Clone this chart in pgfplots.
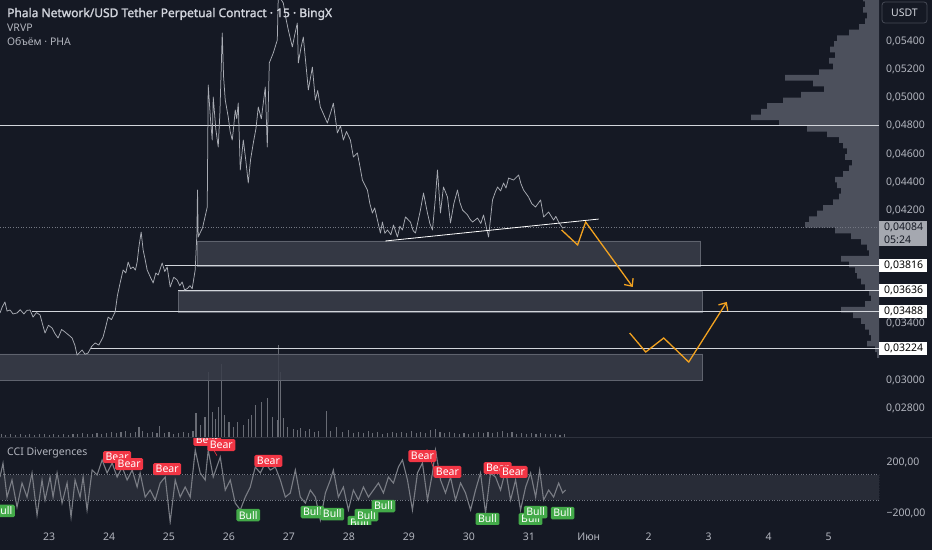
\documentclass[border=0pt]{standalone}
\usepackage{pgfplots}
\pgfplotsset{compat=1.18}
\usepackage{pgfplotstable}
\usepackage{fontspec}
\setmainfont{Noto Sans}
\newfontfamily\titlefont{Noto Sans}[FakeBold=1.6]
\usetikzlibrary{arrows.meta}
\definecolor{bg}{RGB}{21,25,36}
\definecolor{txt}{RGB}{178,181,190}
\definecolor{ttl}{RGB}{209,212,220}
\definecolor{pline}{RGB}{168,171,179}
\definecolor{rfill}{RGB}{58,62,74}
\definecolor{rdraw}{RGB}{95,99,110}
\definecolor{hline}{RGB}{210,213,219}
\definecolor{vol}{RGB}{104,107,116}
\definecolor{vp}{RGB}{76,80,92}
\definecolor{orng}{RGB}{242,162,32}
\definecolor{bearc}{RGB}{242,54,69}
\definecolor{bullc}{RGB}{67,170,73}
\definecolor{ccil}{RGB}{122,125,133}
\definecolor{band}{RGB}{40,44,55}
\definecolor{dotc}{RGB}{115,119,130}
\definecolor{curc}{RGB}{165,168,176}
\definecolor{sepc}{RGB}{46,50,61}
\definecolor{boxb}{RGB}{70,74,86}

\pgfplotstableread{
day price
22.182 0.03477
22.220 0.03520
22.265 0.03555
22.300 0.03490
22.349 0.03498
22.400 0.03470
22.466 0.03477
22.520 0.03500
22.580 0.03470
22.630 0.03495
22.683 0.03498
22.733 0.03448
22.790 0.03480
22.850 0.03463
22.890 0.03400
22.933 0.03335
22.990 0.03390
23.050 0.03371
23.100 0.03330
23.150 0.03300
23.210 0.03360
23.267 0.03342
23.330 0.03320
23.384 0.03300
23.430 0.03250
23.467 0.03180
23.551 0.03215
23.600 0.03185
23.651 0.03194
23.710 0.03240
23.768 0.03265
23.830 0.03250
23.901 0.03307
23.940 0.03370
23.985 0.03448
24.040 0.03430
24.102 0.03484
24.140 0.03600
24.185 0.03689
24.235 0.03781
24.280 0.03760
24.319 0.03837
24.360 0.03790
24.402 0.03802
24.440 0.03780
24.469 0.03837
24.500 0.03950
24.536 0.04049
24.569 0.03922
24.600 0.03860
24.636 0.03781
24.690 0.03730
24.736 0.03689
24.780 0.03760
24.820 0.03745
24.886 0.03830
24.930 0.03770
24.970 0.03802
25.020 0.03661
25.080 0.03730
25.137 0.03710
25.180 0.03670
25.220 0.03696
25.260 0.03640
25.304 0.03649
25.350 0.03670
25.387 0.03649
25.437 0.03781
25.466 0.04042
25.471 0.04226
25.476 0.04346
25.487 0.04014
25.560 0.04080
25.638 0.04226
25.654 0.05089
25.690 0.04860
25.721 0.04700
25.738 0.05004
25.780 0.04780
25.821 0.04651
25.850 0.04900
25.888 0.05457
25.910 0.05150
25.938 0.04983
25.988 0.04863
26.020 0.04760
26.055 0.04700
26.080 0.04800
26.105 0.04912
26.130 0.04850
26.155 0.04962
26.189 0.04488
26.239 0.04700
26.280 0.04560
26.322 0.04396
26.360 0.04560
26.406 0.04679
26.450 0.04780
26.489 0.04933
26.540 0.04850
26.606 0.05075
26.639 0.04651
26.673 0.05245
26.739 0.05315
26.806 0.05407
26.823 0.05725
26.906 0.05669
26.950 0.05560
26.990 0.05478
27.057 0.05358
27.100 0.05450
27.140 0.05527
27.157 0.05245
27.200 0.05350
27.240 0.05428
27.324 0.05054
27.391 0.05216
27.441 0.04983
27.480 0.05050
27.524 0.04933
27.580 0.04880
27.641 0.04820
27.700 0.04900
27.741 0.04960
27.808 0.04750
27.860 0.04800
27.908 0.04700
27.960 0.04760
28.025 0.04700
28.075 0.04580
28.142 0.04608
28.190 0.04500
28.225 0.04417
28.309 0.04346
28.350 0.04250
28.392 0.04184
28.430 0.04220
28.476 0.04134
28.526 0.04042
28.559 0.04120
28.600 0.04040
28.643 0.04064
28.700 0.04030
28.743 0.04099
28.810 0.04014
28.850 0.04090
28.893 0.04064
28.943 0.04156
29.027 0.04120
29.070 0.04060
29.110 0.04042
29.150 0.04120
29.193 0.04205
29.244 0.04325
29.310 0.04184
29.350 0.04110
29.394 0.04064
29.444 0.04297
29.477 0.04488
29.527 0.04184
29.577 0.04368
29.644 0.04297
29.694 0.04113
29.750 0.04250
29.811 0.04346
29.850 0.04260
29.895 0.04205
29.978 0.04170
30.020 0.04140
30.062 0.04120
30.145 0.04148
30.200 0.04110
30.245 0.04170
30.329 0.04014
30.395 0.04276
30.440 0.04330
30.479 0.04368
30.530 0.04340
30.579 0.04396
30.620 0.04360
30.663 0.04431
30.746 0.04417
30.830 0.04453
30.870 0.04390
30.913 0.04346
30.996 0.04297
31.050 0.04250
31.113 0.04226
31.197 0.04276
31.247 0.04156
31.330 0.04191
31.414 0.04134
31.450 0.04160
31.497 0.04120
31.564 0.04078
31.614 0.04085
}\pricedata

\pgfplotstableread{
day cci
22.182 82
22.232 190
22.299 -75
22.382 59
22.466 -153
22.549 35
22.633 -75
22.716 114
22.800 -216
22.883 59
22.933 -98
23.017 82
23.067 -75
23.134 114
23.217 -122
23.301 35
23.367 -231
23.434 59
23.518 -75
23.568 82
23.634 -176
23.718 137
23.801 98
23.885 216
23.968 114
24.052 192
24.135 82
24.219 161
24.302 59
24.386 137
24.469 4
24.519 114
24.603 -75
24.686 -20
24.770 -98
24.853 35
24.937 82
25.020 -270
25.104 59
25.187 -75
25.270 4
25.354 -75
25.438 294
25.521 114
25.604 59
25.654 294
25.738 82
25.855 239
25.938 -20
26.022 59
26.105 -122
26.189 -176
26.272 -75
26.356 4
26.439 161
26.523 114
26.606 192
26.690 137
26.773 161
26.857 59
26.940 -75
27.023 -43
27.107 137
27.190 -75
27.274 -122
27.357 -20
27.441 -75
27.524 -255
27.608 -43
27.691 59
27.741 137
27.825 -75
27.908 4
27.992 -176
28.075 -20
28.159 -98
28.242 4
28.326 -75
28.409 -20
28.493 35
28.576 -43
28.659 82
28.743 35
28.826 161
28.893 216
28.977 59
29.060 -176
29.144 114
29.227 192
29.311 -98
29.394 114
29.444 294
29.528 59
29.611 -43
29.695 82
29.778 -98
29.862 35
29.945 -43
30.029 -176
30.112 -20
30.195 114
30.279 -200
30.362 114
30.446 82
30.529 -20
30.613 137
30.696 -98
30.780 59
30.863 -176
30.947 4
31.030 114
31.114 -75
31.181 137
31.247 -98
31.331 -20
31.414 -75
31.498 35
31.565 -43
31.614 -20
}\ccidata

\pgfplotstableread{
day vol
22.20 3
22.28 2
22.36 3
22.44 2
22.52 3
22.60 2
22.68 3
22.76 2
22.84 3
22.92 3
23.00 2
23.08 3
23.16 2
23.24 3
23.32 2
23.40 3
23.48 3
23.56 4
23.64 3
23.72 3
23.80 4
23.88 3
23.96 4
24.04 5
24.12 4
24.20 5
24.28 6
24.36 4
24.44 5
24.50 10
24.56 6
24.64 4
24.72 5
24.80 4
24.84 11
24.92 4
25.00 5
25.08 3
25.16 4
25.24 5
25.32 4
25.40 6
25.45 24
25.52 12
25.60 20
25.655 65
25.72 25
25.78 18
25.82 30
25.87 73
25.93 22
26.00 15
26.08 10
26.14 15
26.24 12
26.32 18
26.37 22
26.45 32
26.55 35
26.65 39
26.72 20
26.81 17
26.83 92
26.86 65
26.91 19
26.98 10
27.07 8
27.15 7
27.20 9
27.28 6
27.35 8
27.42 5
27.50 6
27.62 26
27.70 6
27.80 10
27.90 5
28.00 7
28.08 4
28.16 5
28.24 4
28.32 6
28.40 4
28.48 5
28.56 3
28.64 4
28.72 5
28.80 4
28.88 5
28.96 4
29.04 6
29.12 4
29.20 5
29.28 4
29.36 7
29.44 8
29.52 5
29.60 4
29.68 5
29.76 4
29.84 3
29.92 4
30.00 3
30.08 4
30.16 5
30.24 4
30.32 5
30.40 4
30.48 5
30.56 6
30.64 4
30.72 5
30.80 3
30.88 4
30.96 3
31.04 4
31.12 3
31.20 4
31.28 3
31.36 3
31.44 3
31.52 2
31.60 3
}\voldata

\pgfplotstableread{
w p
2 0.0316
4 0.0320
12 0.0324
8 0.0328
10 0.0332
14 0.0336
18 0.0340
26 0.0344
38 0.0348
14 0.0352
8 0.0356
10 0.0360
14 0.0364
18 0.0368
22 0.0372
24 0.0376
30 0.0380
38 0.0384
10 0.0388
12 0.0392
18 0.0396
28 0.0400
44 0.0404
74 0.0408
70 0.0412
62 0.0416
56 0.0420
46 0.0424
40 0.0428
38 0.0432
42 0.0436
44 0.0440
36 0.0444
30 0.0448
27 0.0452
34 0.0456
32 0.0460
36 0.0464
40 0.0468
52 0.0472
72 0.0476
100 0.0480
128 0.0484
118 0.0488
112 0.0492
96 0.0496
78 0.0500
55 0.0504
66 0.0508
94 0.0512
60 0.0516
46 0.0520
50 0.0524
44 0.0528
49 0.0532
45 0.0536
42 0.0540
30 0.0544
20 0.0548
14 0.0552
12 0.0556
16 0.0560
14 0.0564
16 0.0568
0 0.0572
}\vpdata

\tikzset{
  hl/.style={fill=white, text=black, anchor=west, inner xsep=5pt, inner ysep=2pt, text width=38pt, font=\fontsize{10.5}{12}\selectfont},
  bear/.style={fill=bearc, text=white, inner xsep=2.5pt, inner ysep=2.2pt, rounded corners=1.5pt, font=\fontsize{10.5}{11}\selectfont},
  bull/.style={fill=bullc, text=white, inner xsep=2.5pt, inner ysep=2.2pt, rounded corners=1.5pt, font=\fontsize{10.5}{11}\selectfont}
}

\begin{document}
\begin{tikzpicture}
\useasboundingbox (0pt,0pt) rectangle (932pt,550pt);
\fill[bg] (0pt,0pt) rectangle (932pt,550pt);

% volume profile (VRVP)
\begin{axis}[scale only axis, width=879pt, height=437pt, at={(0pt,113pt)}, anchor=south west,
  hide axis, x dir=reverse, xmin=0, xmax=879, ymin=0.0260, ymax=0.0569]
\addplot[xbar interval=0.75, fill=vp, draw=none] table[x=w, y=p] {\vpdata};
\end{axis}

% volume bars
\begin{axis}[scale only axis, width=879pt, height=437pt, at={(0pt,113pt)}, anchor=south west,
  hide axis, xmin=22.182, xmax=36.84, ymin=0, ymax=437]
\addplot[ycomb, vol, line width=1.1pt] table[x=day, y=vol] {\voldata};
\end{axis}

% price pane
\begin{axis}[scale only axis, width=879pt, height=437pt, at={(0pt,113pt)}, anchor=south west,
  xmin=22.182, xmax=36.84, ymin=0.0260, ymax=0.0569,
  axis line style={draw=none}, xtick=\empty, major tick length=0pt,
  ytick={0.028,0.030,0.034,0.042,0.044,0.046,0.048,0.050,0.052,0.054},
  yticklabels={{0,02800},{0,03000},{0,03400},{0,04200},{0,04400},{0,04600},{0,04800},{0,05000},{0,05200},{0,05400}},
  yticklabel pos=right,
  yticklabel style={font=\fontsize{10.5}{12}\selectfont, text=txt, xshift=3.5pt},
  clip mode=individual]
% zones
\addplot[fill=rfill, fill opacity=0.85, draw=rdraw, line width=0.6pt] coordinates {(25.471,0.03810) (33.868,0.03810) (33.868,0.03986) (25.471,0.03986) (25.471,0.03810)};
\addplot[fill=rfill, fill opacity=0.85, draw=rdraw, line width=0.6pt] coordinates {(25.153,0.03484) (33.901,0.03484) (33.901,0.03632) (25.153,0.03632) (25.153,0.03484)};
\addplot[fill=rfill, fill opacity=0.85, draw=rdraw, line width=0.6pt] coordinates {(22.100,0.03003) (33.901,0.03003) (33.901,0.03187) (22.100,0.03187) (22.100,0.03003)};
% levels
\addplot[hline, line width=0.8pt] coordinates {(22.182,0.048) (36.84,0.048)};
\addplot[hline, line width=0.8pt] coordinates {(24.936,0.03816) (36.84,0.03816)};
\addplot[hline, line width=0.8pt] coordinates {(25.153,0.03636) (36.84,0.03636)};
\addplot[hline, line width=0.8pt] coordinates {(22.716,0.03488) (36.84,0.03488)};
\addplot[hline, line width=0.8pt] coordinates {(23.684,0.03224) (36.84,0.03224)};
\addplot[dotc, dotted, line width=0.6pt] coordinates {(22.182,0.04084) (36.84,0.04084)};
% price
\addplot[pline, line width=0.75pt, line join=round] table[x=day, y=price] {\pricedata};
% trend line
\addplot[white, line width=0.8pt] coordinates {(28.609,0.03986) (32.165,0.04141)};
% projection arrows
\addplot[orng, line width=1.3pt, line join=miter, -{Straight Barb[length=6pt, width=11pt]}] coordinates {(31.547,0.04064) (31.814,0.03958) (31.948,0.04120) (32.733,0.03661)};
\addplot[orng, line width=1.3pt, line join=miter, -{Straight Barb[length=6pt, width=11pt]}] coordinates {(32.683,0.03335) (32.950,0.03201) (33.250,0.03300) (33.667,0.03130) (34.302,0.03555)};
% price scale labels
\node[hl] at (axis cs:36.84,0.03816) {0,03816};
\node[hl] at (axis cs:36.84,0.03636) {0,03636};
\node[hl] at (axis cs:36.84,0.03488) {0,03488};
\node[hl] at (axis cs:36.84,0.03224) {0,03224};
\node[fill=curc, text=bg, anchor=north west, inner xsep=5pt, inner ysep=2pt, text width=38pt, align=left, font=\fontsize{10.5}{13}\selectfont] at (axis cs:36.84,0.04127) {0,04084\\05:24};
\end{axis}

% CCI pane
\begin{axis}[scale only axis, width=879pt, height=87pt, at={(0pt,26pt)}, anchor=south west,
  xmin=22.182, xmax=36.84, ymin=-286, ymax=396,
  axis line style={draw=none}, major tick length=0pt,
  xtick={23,24,25,26,27,28,29,30,31,32,33,34,35,36},
  xticklabels={23,24,25,26,27,28,29,30,31,Июн,2,3,4,5},
  xticklabel style={font=\fontsize{10.5}{12}\selectfont, text=txt, yshift=-5pt},
  ytick={-200,200}, yticklabels={{−200,00},{200,00}}, yticklabel pos=right,
  yticklabel style={font=\fontsize{10.5}{12}\selectfont, text=txt, xshift=4pt}]
\addplot[fill=band, draw=none] coordinates {(22.182,-100) (36.84,-100) (36.84,100) (22.182,100)};
\addplot[dotc, dotted, line width=0.6pt] coordinates {(22.182,100) (36.84,100) (36.84,-100) (22.182,-100)};
\addplot[ccil, line width=1.1pt] table[x=day, y=cci] {\ccidata};
\addplot[bearc, line width=0.6pt] coordinates {(29.30,300) (29.42,140)};
\addplot[bearc, line width=0.6pt] coordinates {(25.70,330) (25.80,250)};
\node[bear] at (axis cs:24.135,239) {Bear};
\node[bear] at (axis cs:24.336,184) {Bear};
\node[bear] at (axis cs:24.970,145) {Bear};
\node[bear] at (axis cs:25.638,373) {Bear};
\node[bear] at (axis cs:25.873,333) {Bear};
\node[bear] at (axis cs:26.659,208) {Bear};
\node[bear] at (axis cs:29.227,247) {Bear};
\node[bear] at (axis cs:29.644,122) {Bear};
\node[bear] at (axis cs:30.479,153) {Bear};
\node[bear] at (axis cs:30.746,122) {Bear};
\node[bull] at (axis cs:22.232,-184) {Bull};
\node[bull] at (axis cs:26.322,-216) {Bull};
\node[bull] at (axis cs:27.391,-192) {Bull};
\node[bull] at (axis cs:27.724,-208) {Bull};
\node[bull] at (axis cs:28.175,-271) {Bull};
\node[bull] at (axis cs:28.292,-216) {Bull};
\node[bull] at (axis cs:28.576,-145) {Bull};
\node[bull] at (axis cs:30.312,-247) {Bull};
\node[bull] at (axis cs:31.030,-247) {Bull};
\node[bull] at (axis cs:31.114,-192) {Bull};
\node[bull] at (axis cs:31.564,-200) {Bull};
\end{axis}

\draw[sepc, line width=0.8pt] (0pt,113pt) -- (932pt,113pt);
\node[anchor=west, text=ttl, inner sep=0pt] at (7pt,536pt) {\fontsize{12}{14}\selectfont\titlefont Phala Network/USD Tether Perpetual Contract · 15 · BingX};
\node[anchor=west, text=txt, inner sep=0pt, font=\fontsize{10.5}{12}\selectfont] at (7pt,522pt) {VRVP};
\node[anchor=west, text=txt, inner sep=0pt, font=\fontsize{10.5}{12}\selectfont] at (7pt,508pt) {Объём · PHA};
\node[anchor=west, text=txt, inner sep=0pt, font=\fontsize{10.5}{12}\selectfont] at (7pt,97pt) {CCI Divergences};
\node[draw=boxb, line width=0.8pt, fill=bg, rounded corners=3pt, minimum width=45pt, minimum height=21pt, inner sep=0pt, text=ttl, font=\fontsize{10.5}{12}\selectfont] at (904.5pt,537.5pt) {USDT};
\end{tikzpicture}
\end{document}
